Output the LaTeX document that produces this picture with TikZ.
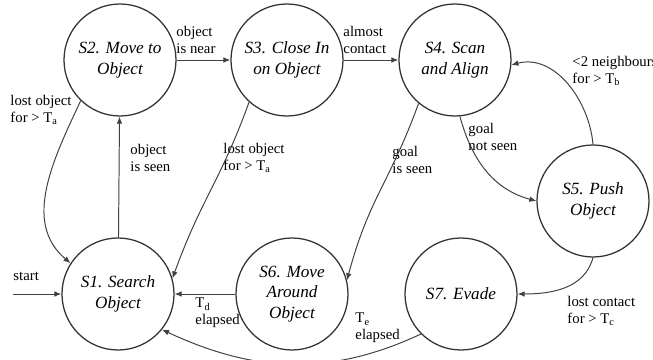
\documentclass[tikz,border=0pt]{standalone}
\usepackage{fontspec}
\setmainfont{Liberation Serif}
\usetikzlibrary{arrows.meta}

\begin{document}
\begin{tikzpicture}[
  line width=0.7pt,
  state/.style={circle,draw=black!80,line width=0.9pt,minimum size=2.8cm,
    inner sep=0pt,align=center,font=\fontsize{12.2}{14.5}\selectfont\itshape},
  lbl/.style={anchor=west,align=left,inner sep=0pt,
    font=\fontsize{10.5}{12}\selectfont},
  trans/.style={draw=black!75,-{Latex[length=5pt,width=4pt]}}
]
\clip (0,0) rectangle (16.325,9);
% Zustaende
\node[state] (s1) at (2.95,1.65)   {S1. Search\\Object};
\node[state] (s2) at (3.0,7.5)     {S2. Move to\\Object};
\node[state] (s3) at (7.175,7.5)   {S3. Close In\\on Object};
\node[state] (s4) at (11.375,7.5)  {S4. Scan\\and Align};
\node[state] (s5) at (14.825,3.975){S5. Push\\Object};
\node[state] (s6) at (7.3,1.65)    {S6. Move\\Around\\Object};
\node[state] (s7) at (11.525,1.65) {S7. Evade};
\coordinate (start) at (0.325,1.65);
% Uebergaenge
\draw[trans] (start) -- (s1);
\draw[trans] (s1) -- (s2);
\draw[trans] (s2) -- (s3);
\draw[trans] (s3) -- (s4);
\draw[trans] (s2.226) to[out=245,in=140] (s1.147);
\draw[trans] (s3.228) to[out=250,in=70,looseness=1.15] (s1.16);
\draw[trans] (s4.230) to[out=250,in=75,looseness=1.15] (s6.14);
\draw[trans] (s4.275) to[out=285,in=165] (s5.180);
\draw[trans] (s5.90) to[out=95,in=15] (s4.355);
\draw[trans] (s5.270) to[out=255,in=0] (s7.0);
\draw[trans] (s6) -- (s1);
\draw[trans] (s7.225) to[out=205,in=335] (s1.321);
% Beschriftungen
\node[lbl] (lstart) at (0.325,2.1)  {start};
\node[lbl] (l23)  at (4.4,8.0)    {object\\is near};
\node[lbl] (l34)  at (8.575,8.0)  {almost\\contact};
\node[lbl] (l21)  at (0.25,6.25)  {lost object\\for > T\textsubscript{a}};
\node[lbl] (l12)  at (3.25,5.05)  {object\\is seen};
\node[lbl] (l31)  at (5.575,5.05) {lost object\\for > T\textsubscript{a}};
\node[lbl] (l46)  at (9.8,5.0)    {goal\\is seen};
\node[lbl] (l45)  at (11.7,5.575) {goal\\not seen};
\node[lbl] (l54)  at (14.3,7.225) {<2 neighbours\\for > T\textsubscript{b}};
\node[lbl] (l57)  at (14.175,1.225) {lost contact\\for > T\textsubscript{c}};
\node[lbl] (l61)  at (4.875,1.175) {T\textsubscript{d}\\elapsed};
\node[lbl] (l71)  at (8.875,0.8)  {T\textsubscript{e}\\elapsed};
\end{tikzpicture}
\end{document}
